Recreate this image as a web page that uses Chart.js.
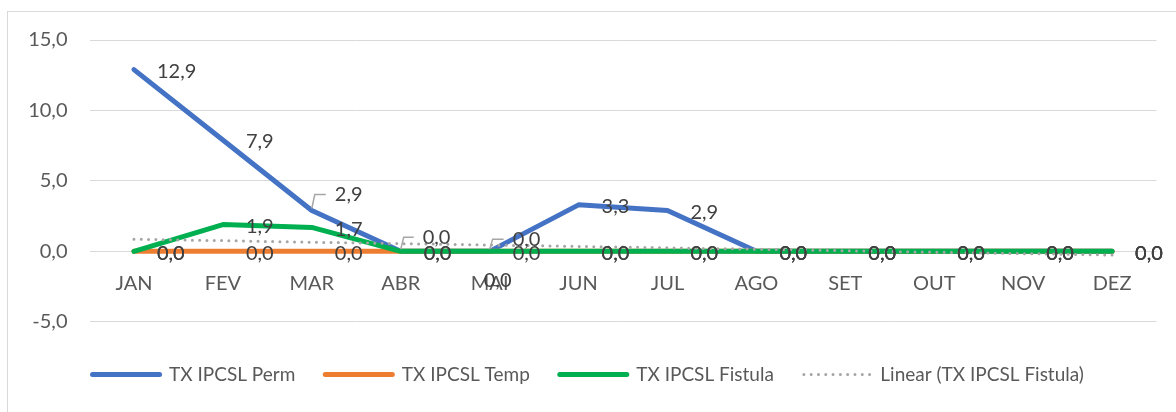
<!DOCTYPE html>
<html>
<head>
<meta charset="utf-8">
<script src="https://cdn.jsdelivr.net/npm/chart.js@4.4.0/dist/chart.umd.min.js"></script>
<style>
  html, body { margin: 0; padding: 0; background: #fff; }
  #wrap { position: relative; width: 1176px; height: 412px; overflow: hidden; }
  #frame { position: absolute; left: 7px; top: 11px; right: -2px; bottom: -2px; border: 1px solid #d9d9d9; pointer-events: none; }
  canvas { position: absolute; left: 0; top: 0; }
</style>
</head>
<body>
<div id="wrap">
  <canvas id="chart" width="1176" height="412"></canvas>
  <div id="frame"></div>
</div>
<script>
const months = ['JAN', 'FEV', 'MAR', 'ABR', 'MAI', 'JUN', 'JUL', 'AGO', 'SET', 'OUT', 'NOV', 'DEZ'];
const perm = [12.9, 7.9, 2.9, 0.0, 0.0, 3.3, 2.9, 0.0, 0.0, 0.0, 0.0, 0.0];
const temp = [0.0, 0.0, 0.0, 0.0, 0.0, 0.0, 0.0, 0.0, 0.0, 0.0, 0.0, 0.0];
const fistula = [0.0, 1.9, 1.7, 0.0, 0.0, 0.0, 0.0, 0.0, 0.0, 0.0, 0.0, 0.0];
// excel linear trendline of the fistula series
const fistulaTrend = [0.86, 0.76, 0.65, 0.55, 0.45, 0.35, 0.25, 0.15, 0.04, -0.06, -0.16, -0.26];
const yTicks = [-5, 0, 5, 10, 15];

const FONT = 'Lato, "Open Sans", sans-serif';
const fmt = v => v.toFixed(1).replace('.', ',');

// labels that excel pushed away from the default spot (dataset index -> point index)
const labelMoves = {
  0: { 2: { dx: 23, dy: -16, leader: true }, 3: { dx: 22, dy: -14, leader: true }, 4: { dx: 23, dy: -12, leader: true } },
  2: { 4: { dx: 8, dy: 29, center: true } },
};

const valueLabels = {
  id: 'valueLabels',
  afterDatasetsDraw(chart) {
    const ctx = chart.ctx;
    ctx.save();
    ctx.font = `20px ${FONT}`;
    ctx.textBaseline = 'middle';
    chart.data.datasets.forEach((ds, di) => {
      if (ds.noLabels) return;
      const meta = chart.getDatasetMeta(di);
      meta.data.forEach((pt, i) => {
        const mv = (labelMoves[di] || {})[i] || { dx: 23, dy: 2 };
        const tx = pt.x + mv.dx;
        const ty = pt.y + mv.dy;
        if (mv.leader) {
          ctx.strokeStyle = '#a6a6a6';
          ctx.lineWidth = 1.5;
          ctx.beginPath();
          ctx.moveTo(pt.x, pt.y - 2);
          ctx.lineTo(pt.x + 3, ty);
          ctx.lineTo(tx - 9, ty);
          ctx.stroke();
        }
        ctx.fillStyle = '#404040';
        ctx.textAlign = mv.center ? 'center' : 'left';
        ctx.fillText(fmt(ds.data[i]), tx, ty);
      });
    });
    ctx.restore();
  }
};

// excel centres the legend on the whole frame, nudge it right a bit
const legendShift = {
  id: 'legendShift',
  afterLayout(chart) {
    if (!chart.legend) return;
    chart.legend.left += 10;
    chart.legend.right += 10;
  }
};

new Chart(document.getElementById('chart'), {
  type: 'line',
  data: {
    labels: months,
    datasets: [
      { label: 'TX IPCSL Perm', data: perm, borderColor: '#4472C4', backgroundColor: '#4472C4', order: 3 },
      { label: 'TX IPCSL Temp', data: temp, borderColor: '#ED7D31', backgroundColor: '#ED7D31', order: 2 },
      { label: 'TX IPCSL Fistula', data: fistula, borderColor: '#00B050', backgroundColor: '#00B050', order: 1 },
      { label: 'Linear (TX IPCSL Fistula)', data: fistulaTrend, borderColor: '#A5A5A5', backgroundColor: '#A5A5A5',
        borderWidth: 3, borderDash: [0, 7.3], order: 0, noLabels: true },
    ],
  },
  options: {
    responsive: false,
    animation: false,
    layout: { padding: { top: 40, right: 19.5, bottom: 18, left: 0 } },
    elements: {
      line: { borderWidth: 5, tension: 0, borderCapStyle: 'round', borderJoinStyle: 'round', fill: false },
      point: { radius: 0, hoverRadius: 0 },
    },
    scales: {
      x: {
        position: { y: 0 },
        offset: true,
        grid: { display: false, drawTicks: false },
        border: { display: false },
        ticks: { padding: 20, color: '#595959', font: { family: FONT, size: 20 } },
      },
      y: {
        min: -5,
        max: 15,
        afterBuildTicks: s => { s.ticks = yTicks.map(v => ({ value: v })); },
        afterFit: s => { s.width = 89.5; },
        grid: { color: '#d9d9d9', lineWidth: 1, drawTicks: false },
        border: { display: false },
        ticks: { padding: 22, color: '#595959', font: { family: FONT, size: 20 }, callback: v => fmt(v) },
      },
    },
    plugins: {
      legend: {
        position: 'bottom',
        title: { display: true, text: '', padding: { top: 12, bottom: 0 }, font: { size: 1 } },
        labels: {
          usePointStyle: true,
          pointStyle: 'line',
          pointStyleWidth: 67,
          padding: 30,
          color: '#595959',
          font: { family: FONT, size: 19 },
          sort: (a, b) => a.datasetIndex - b.datasetIndex,
          generateLabels: chart => Chart.defaults.plugins.legend.labels.generateLabels(chart).map(item => {
            const ds = chart.data.datasets[item.datasetIndex];
            return Object.assign(item, {
              lineWidth: ds.borderWidth || 5,
              lineDash: ds.borderDash || [],
              lineCap: 'round',
              strokeStyle: ds.borderColor,
            });
          }),
        },
      },
      tooltip: { enabled: false },
    },
  },
  plugins: [valueLabels, legendShift],
});
</script>
</body>
</html>
